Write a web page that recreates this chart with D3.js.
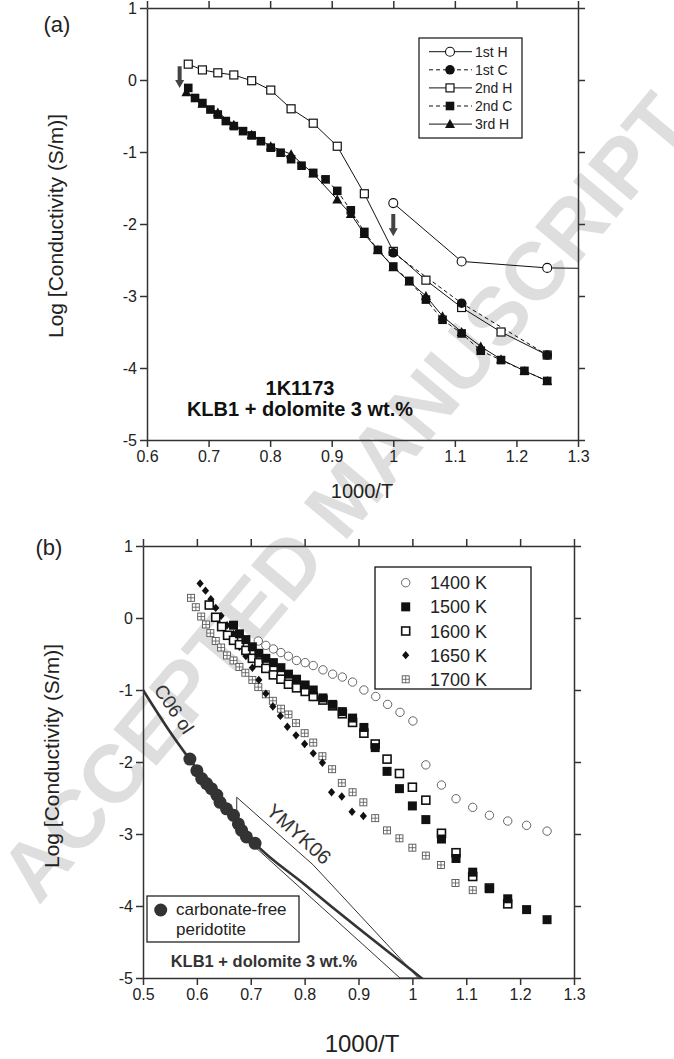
<!DOCTYPE html>
<html>
<head>
<meta charset="utf-8">
<script src="https://cdn.jsdelivr.net/npm/d3@7"></script>
<style>
  body { margin: 0; background: #fff; }
  svg { display: block; font-family: "Liberation Sans", Arial, sans-serif; }
</style>
</head>
<body>
<svg id="chart" width="674" height="1059"></svg>
<script>
// ---------- panel (a) data : 1000/T vs log conductivity ----------
const firstH  = [[1.0, -1.71], [1.111, -2.52], [1.25, -2.61], [1.35, -2.62]];
const firstC  = [[1.0, -2.40], [1.111, -3.10], [1.25, -3.82]];
const secondH = [[0.667, 0.22], [0.690, 0.14], [0.715, 0.10], [0.741, 0.07], [0.770, -0.01],
                 [0.801, -0.14], [0.834, -0.40], [0.870, -0.60], [0.909, -0.92], [0.953, -1.58],
                 [1.0, -2.38], [1.053, -2.78], [1.111, -3.16], [1.175, -3.50], [1.25, -3.82]];
const secondC = [[0.667, -0.11], [0.678, -0.25], [0.690, -0.32], [0.703, -0.41], [0.715, -0.48],
                 [0.728, -0.57], [0.741, -0.64], [0.756, -0.71], [0.770, -0.77], [0.785, -0.85],
                 [0.801, -0.94], [0.817, -1.01], [0.834, -1.10], [0.851, -1.19], [0.870, -1.29],
                 [0.890, -1.38], [0.909, -1.54], [0.931, -1.81], [0.953, -2.11], [0.975, -2.36],
                 [1.0, -2.59], [1.026, -2.79], [1.053, -3.05], [1.080, -3.33], [1.111, -3.52],
                 [1.142, -3.76], [1.175, -3.89], [1.213, -4.04], [1.25, -4.18]];
const thirdH  = [[0.664, -0.17], [0.690, -0.33], [0.715, -0.45], [0.741, -0.62], [0.770, -0.76],
                 [0.801, -0.92], [0.834, -1.03], [0.870, -1.30], [0.909, -1.66], [0.931, -1.86],
                 [0.953, -2.14], [0.975, -2.36], [1.0, -2.60], [1.026, -2.80], [1.053, -3.00],
                 [1.080, -3.28], [1.111, -3.50], [1.142, -3.70], [1.175, -3.88], [1.213, -4.04],
                 [1.25, -4.18]];
const arrowsA = [[0.653, 0.19, -0.11], [1.0, -1.86, -2.17]];
const legendA = ["1st H", "1st C", "2nd H", "2nd C", "3rd H"];

// ---------- panel (b) data ----------
const invT1400 = [0.714, 0.728, 0.742, 0.756, 0.770, 0.785, 0.801, 0.816, 0.834, 0.852, 0.870, 0.889,
                  0.910, 0.932, 0.954, 0.977, 1.001, 1.025, 1.054, 1.081, 1.112, 1.143, 1.177, 1.212, 1.25];
const cond1400 = [-0.32, -0.38, -0.43, -0.48, -0.53, -0.59, -0.62, -0.66, -0.72, -0.78, -0.82, -0.89,
                  -1.00, -1.09, -1.20, -1.31, -1.43, -2.04, -2.32, -2.51, -2.63, -2.74, -2.82, -2.88, -2.96];
const invT1500 = [0.668, 0.679, 0.691, 0.703, 0.715, 0.728, 0.742, 0.756, 0.770, 0.785, 0.801, 0.816,
                  0.834, 0.852, 0.870, 0.889, 0.910, 0.931, 0.953, 0.976, 1.0, 1.025, 1.054, 1.081,
                  1.112, 1.143, 1.177, 1.212, 1.25];
const cond1500 = [-0.10, -0.22, -0.30, -0.40, -0.49, -0.56, -0.62, -0.69, -0.78, -0.85, -0.93, -1.00,
                  -1.11, -1.20, -1.30, -1.39, -1.52, -1.80, -2.13, -2.37, -2.61, -2.80, -3.07, -3.34,
                  -3.53, -3.76, -3.90, -4.05, -4.19];
const invT1600 = [0.623, 0.635, 0.646, 0.657, 0.668, 0.679, 0.691, 0.703, 0.715, 0.728, 0.742, 0.756,
                  0.770, 0.785, 0.801, 0.816, 0.834, 0.852, 0.870, 0.889, 0.910, 0.931, 0.953, 0.976,
                  1.0, 1.025, 1.054, 1.081, 1.112, 1.143, 1.177];
const cond1600 = [0.18, 0.01, -0.12, -0.24, -0.31, -0.37, -0.45, -0.56, -0.62, -0.70, -0.79, -0.85,
                  -0.92, -0.97, -1.02, -1.09, -1.14, -1.22, -1.33, -1.45, -1.60, -1.75, -1.96, -2.16,
                  -2.35, -2.53, -2.99, -3.26, -3.59, -3.75, -3.97];
const invT1650 = [0.606, 0.616, 0.626, 0.635, 0.645, 0.656, 0.668, 0.679, 0.691, 0.703, 0.715, 0.728,
                  0.741, 0.755, 0.768, 0.784, 0.800, 0.816, 0.833, 0.850, 0.869, 0.888, 0.909];
const cond1650 = [0.48, 0.38, 0.26, 0.14, 0.03, -0.10, -0.22, -0.40, -0.53, -0.69, -0.86, -1.05,
                  -1.23, -1.36, -1.51, -1.63, -1.75, -1.88, -2.01, -2.42, -2.48, -2.69, -2.75];
const invT1700 = [0.589, 0.598, 0.608, 0.617, 0.625, 0.635, 0.645, 0.656, 0.668, 0.679, 0.690, 0.703,
                  0.714, 0.728, 0.741, 0.756, 0.770, 0.784, 0.800, 0.816, 0.833, 0.851, 0.869, 0.889,
                  0.909, 0.931, 0.953, 0.976, 1.0, 1.025, 1.053, 1.080, 1.112];
const cond1700 = [0.28, 0.15, 0.02, -0.09, -0.21, -0.32, -0.41, -0.52, -0.59, -0.68, -0.76, -0.86,
                  -0.96, -1.06, -1.15, -1.26, -1.34, -1.46, -1.60, -1.73, -1.92, -2.10, -2.29, -2.42,
                  -2.56, -2.78, -2.95, -3.06, -3.19, -3.30, -3.43, -3.68, -3.78];
const legendB = ["1400 K", "1500 K", "1600 K", "1650 K", "1700 K"];

// carbonate-free peridotite, C06 olivine curve and YMYK06 field
const peridotite = [[0.587, -1.96], [0.600, -2.12], [0.609, -2.23], [0.618, -2.30], [0.627, -2.37],
                    [0.637, -2.46], [0.643, -2.56], [0.655, -2.65], [0.668, -2.74], [0.677, -2.86],
                    [0.683, -2.95], [0.692, -3.04], [0.708, -3.13]];
const c06ol = [[0.5, -1.0], [0.55, -1.58], [0.6, -2.1], [0.65, -2.6], [0.7, -3.07], [0.8, -3.70],
               [0.9, -4.31], [1.0, -4.90], [1.02, -5.02]];
const ymyk06 = [[0.674, -2.49], [0.816, -3.43], [1.011, -5.0], [0.977, -5.0], [0.674, -2.95]];

// ticks
const xTicksA = [0.6, 0.7, 0.8, 0.9, 1.0, 1.1, 1.2, 1.3];
const xLabelsA = ["0.6", "0.7", "0.8", "0.9", "1", "1.1", "1.2", "1.3"];
const xTicksB = [0.5, 0.6, 0.7, 0.8, 0.9, 1.0, 1.1, 1.2, 1.3];
const xLabelsB = ["0.5", "0.6", "0.7", "0.8", "0.9", "1", "1.1", "1.2", "1.3"];
const yTicks = [1, 0, -1, -2, -3, -4, -5];
const yLabels = ["1", "0", "-1", "-2", "-3", "-4", "-5"];

const svg = d3.select("#chart");
const ink = "#222";

// Watermark behind everything
svg.append("text")
    .attr("transform", "translate(345,497) rotate(-50)")
    .attr("text-anchor", "middle")
    .attr("dominant-baseline", "central")
    .style("font-size", "82px")
    .style("font-weight", "bold")
    .attr("fill", "#dedede")
    .text("ACCEPTED MANUSCRIPT");

// Draw the four-sided frame with outward ticks
function drawFrame(g, x, y, xTicks, xLabels) {
    const [x0, x1] = x.range();
    const [y1, y0] = y.range();
    const styleAxis = a => {
        a.selectAll("path, line").attr("stroke", "#333").attr("stroke-width", 1.5);
        a.selectAll("text").attr("fill", ink).style("font-size", "16px");
    };
    g.append("g").attr("transform", `translate(0,${y1})`)
        .call(d3.axisBottom(x).tickValues(xTicks).tickSize(7).tickSizeOuter(0).tickPadding(4)
            .tickFormat((d, i) => xLabels[i]))
        .call(styleAxis);
    g.append("g").attr("transform", `translate(0,${y0})`)
        .call(d3.axisTop(x).tickValues(xTicks).tickSize(7).tickSizeOuter(0).tickFormat(""))
        .call(styleAxis);
    g.append("g").attr("transform", `translate(${x0},0)`)
        .call(d3.axisLeft(y).tickValues(yTicks).tickSize(7).tickSizeOuter(0).tickPadding(3)
            .tickFormat((d, i) => yLabels[i]))
        .call(styleAxis);
    g.append("g").attr("transform", `translate(${x1},0)`)
        .call(d3.axisRight(y).tickValues(yTicks).tickSize(7).tickSizeOuter(0).tickFormat(""))
        .call(styleAxis);
    g.selectAll(".domain").attr("fill", "none");
}

// Markers
function marker(g, type, px, py) {
    if (type === "circleOpen") {
        g.append("circle").attr("cx", px).attr("cy", py).attr("r", 4.5)
            .attr("fill", "#fff").attr("stroke", "#111").attr("stroke-width", 1.1);
    } else if (type === "circleFilled") {
        g.append("circle").attr("cx", px).attr("cy", py).attr("r", 4.8).attr("fill", "#111");
    } else if (type === "squareOpen") {
        g.append("rect").attr("x", px - 4).attr("y", py - 4).attr("width", 8).attr("height", 8)
            .attr("fill", "#fff").attr("stroke", "#111").attr("stroke-width", 1.2);
    } else if (type === "squareFilled") {
        g.append("rect").attr("x", px - 4.3).attr("y", py - 4.3).attr("width", 8.6).attr("height", 8.6)
            .attr("fill", "#111");
    } else if (type === "triangle") {
        g.append("path").attr("d", `M${px},${py - 5}L${px + 5},${py + 4}L${px - 5},${py + 4}Z`)
            .attr("fill", "#111");
    } else if (type === "circleGray") {
        g.append("circle").attr("cx", px).attr("cy", py).attr("r", 4.2)
            .attr("fill", "#fff").attr("stroke", "#666").attr("stroke-width", 1);
    } else if (type === "squareB") {
        g.append("rect").attr("x", px - 4.5).attr("y", py - 4.5).attr("width", 9).attr("height", 9)
            .attr("fill", "#111");
    } else if (type === "squareOpenB") {
        g.append("rect").attr("x", px - 4).attr("y", py - 4).attr("width", 8).attr("height", 8)
            .attr("fill", "#fff").attr("stroke", "#111").attr("stroke-width", 1.6);
    } else if (type === "diamond") {
        g.append("path").attr("d", `M${px},${py - 4.2}L${px + 3.6},${py}L${px},${py + 4.2}L${px - 3.6},${py}Z`)
            .attr("fill", "#111");
    } else if (type === "squareCross") {
        g.append("rect").attr("x", px - 3.5).attr("y", py - 3.5).attr("width", 7).attr("height", 7)
            .attr("fill", "#fff").attr("stroke", "#555").attr("stroke-width", 0.9);
        g.append("path").attr("d", `M${px - 3.5},${py}H${px + 3.5}M${px},${py - 3.5}V${py + 3.5}`)
            .attr("stroke", "#555").attr("stroke-width", 0.8);
    }
}

// ================= Panel (a) =================
const xA = d3.scaleLinear().domain([0.6, 1.3]).range([147, 578]);
const yA = d3.scaleLinear().domain([-5, 1]).range([440, 8]);
const gA = svg.append("g");

gA.append("clipPath").attr("id", "clipA")
    .append("rect").attr("x", 147).attr("y", 8).attr("width", 431).attr("height", 432);

const lineA = d3.line().x(d => xA(d[0])).y(d => yA(d[1]));
const seriesA = [
    { data: firstH, type: "circleOpen", dash: null },
    { data: firstC, type: "circleFilled", dash: "4,3" },
    { data: secondH, type: "squareOpen", dash: null },
    { data: secondC, type: "squareFilled", dash: "4,3" },
    { data: thirdH, type: "triangle", dash: null }
];

const linesA = gA.append("g").attr("clip-path", "url(#clipA)");
seriesA.forEach(s => {
    linesA.append("path").attr("d", lineA(s.data)).attr("fill", "none")
        .attr("stroke", "#111").attr("stroke-width", 1)
        .attr("stroke-dasharray", s.dash);
});
// markers drawn in order so that later series sit on top
[4, 3, 2, 1, 0].forEach(k => {
    const s = seriesA[k];
    const mg = gA.append("g");
    s.data.filter(d => d[0] <= 1.3).forEach(d => marker(mg, s.type, xA(d[0]), yA(d[1])));
});

// arrows marking the start of cycles
arrowsA.forEach(a => {
    const px = xA(a[0]), top = yA(a[1]), bot = yA(a[2]);
    gA.append("path")
        .attr("d", `M${px - 2},${top}H${px + 2}V${bot - 8}H${px + 4.5}L${px},${bot}L${px - 4.5},${bot - 8}H${px - 2}Z`)
        .attr("fill", "#444");
});

drawFrame(gA, xA, yA, xTicksA, xLabelsA);

// legend (a)
const legA = gA.append("g");
legA.append("rect").attr("x", 419).attr("y", 38).attr("width", 103).attr("height", 100)
    .attr("fill", "#fff").attr("stroke", "#111").attr("stroke-width", 1.2);
legendA.forEach((name, i) => {
    const ly = 51.7 + i * 18.1;
    legA.append("line").attr("x1", 429).attr("x2", 472).attr("y1", ly).attr("y2", ly)
        .attr("stroke", "#111").attr("stroke-width", 1).attr("stroke-dasharray", seriesA[i].dash);
    marker(legA, seriesA[i].type, 450, ly);
    legA.append("text").attr("x", 475).attr("y", ly + 5).attr("fill", ink)
        .style("font-size", "14px").text(name);
});

gA.append("text").attr("x", 300).attr("y", 395).attr("text-anchor", "middle")
    .style("font-size", "20px").style("font-weight", "bold").attr("fill", "#111").text("1K1173");
gA.append("text").attr("x", 300).attr("y", 416).attr("text-anchor", "middle")
    .style("font-size", "20px").style("font-weight", "bold").attr("fill", "#111").text("KLB1 + dolomite 3 wt.%");

gA.append("text").attr("x", 362).attr("y", 498).attr("text-anchor", "middle")
    .style("font-size", "20px").attr("fill", ink).text("1000/T");
gA.append("text").attr("transform", "translate(63,226) rotate(-90)").attr("text-anchor", "middle")
    .style("font-size", "21px").attr("fill", ink).text("Log [Conductivity (S/m)]");
gA.append("text").attr("x", 57).attr("y", 32).attr("text-anchor", "middle")
    .style("font-size", "22px").attr("fill", ink).text("(a)");

// ================= Panel (b) =================
const xB = d3.scaleLinear().domain([0.5, 1.3]).range([143, 574]);
const yB = d3.scaleLinear().domain([-5, 1]).range([978, 546]);
const gB = svg.append("g");

gB.append("clipPath").attr("id", "clipB")
    .append("rect").attr("x", 143).attr("y", 546).attr("width", 431).attr("height", 432);
const bodyB = gB.append("g").attr("clip-path", "url(#clipB)");

const lineB = d3.line().x(d => xB(d[0])).y(d => yB(d[1]));

// YMYK06 field
bodyB.append("path").attr("d", lineB(ymyk06) + "Z")
    .attr("fill", "#fff").attr("stroke", "#333").attr("stroke-width", 1);
// C06 olivine
bodyB.append("path").attr("d", lineB.curve(d3.curveMonotoneX)(c06ol))
    .attr("fill", "none").attr("stroke", "#333").attr("stroke-width", 2.6);
lineB.curve(d3.curveLinear);

peridotite.forEach(d => {
    bodyB.append("circle").attr("cx", xB(d[0])).attr("cy", yB(d[1])).attr("r", 6.5).attr("fill", "#333");
});

const seriesB = [
    { x: invT1400, y: cond1400, type: "circleGray" },
    { x: invT1700, y: cond1700, type: "squareCross" },
    { x: invT1650, y: cond1650, type: "diamond" },
    { x: invT1600, y: cond1600, type: "squareOpenB" },
    { x: invT1500, y: cond1500, type: "squareB" }
];
seriesB.forEach(s => {
    const mg = bodyB.append("g");
    s.x.forEach((v, i) => marker(mg, s.type, xB(v), yB(s.y[i])));
});

drawFrame(gB, xB, yB, xTicksB, xLabelsB);

// legend (b)
const legB = gB.append("g");
legB.append("rect").attr("x", 375).attr("y", 567).attr("width", 156).attr("height", 122)
    .attr("fill", "#fff").attr("stroke", "#111").attr("stroke-width", 1.3);
const legTypes = ["circleGray", "squareB", "squareOpenB", "diamond", "squareCross"];
legendB.forEach((name, i) => {
    const ly = 582.7 + i * 24.15;
    marker(legB, legTypes[i], 405.7, ly);
    legB.append("text").attr("x", 430).attr("y", ly + 6.5).attr("fill", ink)
        .style("font-size", "18px").text(name);
});

// carbonate-free legend
const legC = gB.append("g");
legC.append("rect").attr("x", 147).attr("y", 896).attr("width", 152).attr("height", 46)
    .attr("fill", "#fff").attr("stroke", "#111").attr("stroke-width", 1.2);
legC.append("circle").attr("cx", 160.7).attr("cy", 910).attr("r", 6.5).attr("fill", "#333");
legC.append("text").attr("x", 176).attr("y", 915).attr("fill", ink).style("font-size", "17px").text("carbonate-free");
legC.append("text").attr("x", 176).attr("y", 935).attr("fill", ink).style("font-size", "17px").text("peridotite");

gB.append("text").attr("x", 264).attr("y", 967).attr("text-anchor", "middle")
    .style("font-size", "16.5px").style("font-weight", "bold").attr("fill", "#333").text("KLB1 + dolomite 3 wt.%");

gB.append("text").attr("transform", "translate(174,709) rotate(56)").attr("text-anchor", "middle")
    .attr("dominant-baseline", "central").style("font-size", "19px").attr("fill", "#333").text("C06 ol");
gB.append("text").attr("transform", "translate(299,834) rotate(42)").attr("text-anchor", "middle")
    .attr("dominant-baseline", "central").style("font-size", "20px").attr("fill", "#333").text("YMYK06");

gB.append("text").attr("x", 362).attr("y", 1052).attr("text-anchor", "middle")
    .style("font-size", "24px").attr("fill", ink).text("1000/T");
gB.append("text").attr("transform", "translate(59,756) rotate(-90)").attr("text-anchor", "middle")
    .style("font-size", "21px").attr("fill", ink).text("Log [Conductivity (S/m)]");
gB.append("text").attr("x", 49).attr("y", 555).attr("text-anchor", "middle")
    .style("font-size", "22px").attr("fill", ink).text("(b)");
</script>
</body>
</html>
